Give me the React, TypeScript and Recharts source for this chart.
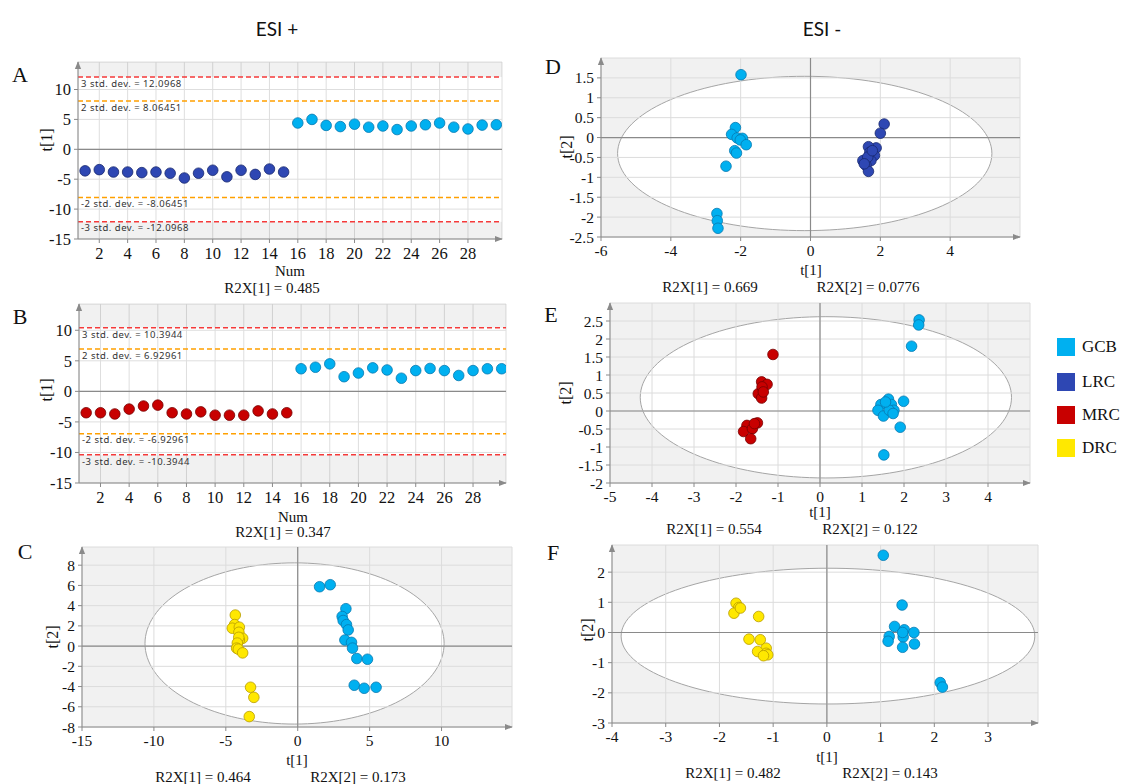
import React from "react"
import {
  ScatterChart, Scatter, XAxis, YAxis, CartesianGrid, ReferenceLine, ReferenceArea,
} from "recharts"

// ---- data ----
const NUM_LOW = [1, 2, 3, 4, 5, 6, 7, 8, 9, 10, 11, 12, 13, 14, 15]
const NUM_HIGH = [16, 17, 18, 19, 20, 21, 22, 23, 24, 25, 26, 27, 28, 29, 30]

const A_LRC = [-3.6, -3.4, -3.8, -3.8, -3.9, -3.8, -4.0, -4.8, -4.0, -3.5, -4.6, -3.5, -4.2, -3.3, -3.8]
const A_GCB = [4.4, 5.0, 4.0, 3.8, 4.2, 3.7, 3.9, 3.3, 3.9, 4.1, 4.4, 3.7, 3.4, 4.05, 4.1]
const A_SD = [12.0968, 8.06451]

const B_MRC = [-3.5, -3.5, -3.7, -2.9, -2.4, -2.25, -3.5, -3.7, -3.35, -3.9, -3.9, -3.9, -3.2, -3.7, -3.5]
const B_GCB = [3.7, 3.95, 4.5, 2.4, 3.0, 3.85, 3.5, 2.15, 3.4, 3.75, 3.4, 2.6, 3.4, 3.7, 3.7]
const B_SD = [10.3944, 6.92961]

type Pt = [number, number]

const C_DRC: Pt[] = [
  [-4.34, 3.07], [-4.39, 2.13], [-4.55, 1.77], [-4.06, 1.87], [-4.09, 1.37], [-3.83, 0.77],
  [-4.06, 0.6], [-4.1, 0.87], [-4.2, 0.3], [-4.25, -0.2], [-4.13, -0.3], [-3.83, -0.67],
  [-3.28, -4.07], [-3.05, -5.07], [-3.37, -6.97],
]
const C_GCB: Pt[] = [
  [1.52, 5.87], [2.26, 6.07], [3.35, 3.7], [3.09, 2.93], [3.16, 2.53], [3.39, 2.13],
  [3.51, 1.6], [3.28, 0.6], [3.74, 0.37], [3.81, -0.2], [4.11, -1.23], [4.85, -1.3],
  [3.93, -3.87], [4.62, -4.17], [5.45, -4.07],
]

const D_GCB: Pt[] = [
  [-1.99, 1.58], [-2.15, 0.25], [-2.26, 0.08], [-2.1, -0.01], [-1.95, -0.02], [-2.01, -0.06],
  [-1.84, -0.18], [-2.17, -0.33], [-2.12, -0.39], [-2.42, -0.72], [-2.68, -1.91], [-2.67, -2.09],
  [-2.65, -2.28],
]
const D_LRC: Pt[] = [
  [2.11, 0.34], [2.0, 0.11], [1.88, -0.26], [1.66, -0.23], [1.83, -0.45], [1.73, -0.58],
  [1.5, -0.58], [1.59, -0.7], [1.66, -0.85], [1.7, -0.37], [1.64, -0.49], [1.77, -0.33], [1.54, -0.66],
]

const E_MRC: Pt[] = [
  [-1.12, 1.57], [-1.39, 0.81], [-1.26, 0.74], [-1.47, 0.48], [-1.39, 0.36], [-1.38, 0.67],
  [-1.35, 0.53], [-1.49, -0.33], [-1.74, -0.4], [-1.82, -0.57], [-1.61, -0.49], [-1.65, -0.77],
  [-1.56, -0.35],
]
const E_GCB: Pt[] = [
  [2.36, 2.53], [2.35, 2.39], [2.18, 1.8], [1.99, 0.27], [1.63, 0.33], [1.45, 0.18],
  [1.38, 0.02], [1.51, -0.14], [1.7, 0.18], [1.76, 0.02], [1.65, 0.02], [1.74, -0.07],
  [1.56, 0.25], [1.91, -0.45], [1.52, -1.22],
]

const F_DRC: Pt[] = [
  [-1.69, 0.97], [-1.64, 0.83], [-1.73, 0.64], [-1.61, 0.81], [-1.27, 0.53], [-1.45, -0.22],
  [-1.24, -0.24], [-1.13, -0.52], [-1.29, -0.63], [-1.13, -0.69], [-1.1, -0.74], [-1.18, -0.77],
]
const F_GCB: Pt[] = [
  [1.05, 2.56], [1.4, 0.91], [1.26, 0.2], [1.44, 0.09], [1.62, 0.0], [1.16, -0.13],
  [1.14, -0.29], [1.42, -0.15], [1.63, -0.38], [1.41, -0.49], [1.41, 0.0], [2.11, -1.66], [2.15, -1.81],
]

const GROUPS = ["GCB", "LRC", "MRC", "DRC"]
const FILL: Record<string, string> = { GCB: "#00B0F0", LRC: "#2E47B3", MRC: "#C80000", DRC: "#FFE800" }
const EDGE: Record<string, string> = { GCB: "#0679b0", LRC: "#18286e", MRC: "#760000", DRC: "#b89c00" }

const SERIF = "'Liberation Serif', 'Times New Roman', serif"
const YW = 50
const MT = 10
const MR = 10
const XH = 30

interface Ell { cx: number; cy: number; rx: number; ry: number }

const ellipsePoints = (e: Ell) =>
  Array.from({ length: 145 }, (_, i) => {
    const t = (i / 144) * 2 * Math.PI
    return { x: e.cx + e.rx * Math.cos(t), y: e.cy + e.ry * Math.sin(t) }
  })

const dot = (g: string) => (p: any) => (
  <circle cx={p.cx} cy={p.cy} r={5.3} fill={FILL[g]} stroke={EDGE[g]} strokeWidth={0.8} />
)

const Txt = ({ x, y, children, size = 15, rotate = false, font = SERIF }: any) => (
  <div
    style={{
      position: "absolute", left: x, top: y, fontFamily: font, fontSize: size, lineHeight: 1,
      whiteSpace: "nowrap", color: "#111",
      transform: `translate(-50%, -50%)${rotate ? " rotate(-90deg)" : ""}`,
    }}
  >
    {children}
  </div>
)

function Arrow({ id }: { id: string }) {
  return (
    <defs>
      <marker id={id} viewBox="0 0 10 10" refX="9" refY="5" markerWidth="8" markerHeight="8"
        orient="auto-start-reverse" markerUnits="userSpaceOnUse">
        <path d="M0,1 L10,5 L0,9 z" fill="#8a8a8a" />
      </marker>
    </defs>
  )
}

function axes(id: string, xDomain: number[], yDomain: number[], xTicks: number[], yTicks: number[], fs: number) {
  const tick = { fontFamily: SERIF, fontSize: fs, fill: "#111" }
  return [
    <XAxis key="x" type="number" dataKey="x" domain={xDomain} ticks={xTicks} allowDataOverflow interval={0}
      height={XH} tickSize={4} tickMargin={4} tick={tick}
      axisLine={{ stroke: "#8a8a8a", markerEnd: `url(#${id})` }} tickLine={{ stroke: "#8a8a8a" }} />,
    <YAxis key="y" type="number" dataKey="y" domain={yDomain} ticks={yTicks} allowDataOverflow interval={0}
      width={YW} tickSize={4} tickMargin={3} tick={tick}
      axisLine={{ stroke: "#8a8a8a", markerStart: `url(#${id})` }} tickLine={{ stroke: "#8a8a8a" }} />,
  ]
}

function IndexPanel({ id, plot, yDomain, xDomain, low, high, lowGroup, sd }: any) {
  const lowData = NUM_LOW.map((n, i) => ({ x: n, y: low[i] }))
  const highData = NUM_HIGH.map((n, i) => ({ x: n, y: high[i] }))
  const lbl = (v: string) => ({
    value: v, position: "insideTopLeft", offset: 3, fontSize: 9.5, letterSpacing: 0.5,
    fill: "#333", fontFamily: "'Noto Sans', sans-serif",
  })
  return (
    <div style={{ position: "absolute", left: plot.x - YW, top: plot.y - MT }}>
      <ScatterChart width={plot.w + YW + MR} height={plot.h + MT + XH} margin={{ top: MT, right: MR, left: 0, bottom: 0 }}>
        <Arrow id={id} />
        {axes(id, xDomain, yDomain, [2, 4, 6, 8, 10, 12, 14, 16, 18, 20, 22, 24, 26, 28], [-15, -10, -5, 0, 5, 10], 16.5)}
        <CartesianGrid stroke="#dedede" />
        <ReferenceArea y1={sd[0]} y2={yDomain[1]} fill="#000" fillOpacity={0.055} stroke="none" />
        <ReferenceArea y1={yDomain[0]} y2={-sd[0]} fill="#000" fillOpacity={0.055} stroke="none" />
        <ReferenceLine y={0} stroke="#8a8a8a" strokeWidth={1.2} />
        <ReferenceLine y={sd[0]} stroke="#F53A3A" strokeDasharray="5 3" strokeWidth={1.5} label={lbl(`3 std. dev. = ${sd[0]}`)} />
        <ReferenceLine y={sd[1]} stroke="#FFA000" strokeDasharray="5 3" strokeWidth={1.5} label={lbl(`2 std. dev. = ${sd[1]}`)} />
        <ReferenceLine y={-sd[1]} stroke="#FFA000" strokeDasharray="5 3" strokeWidth={1.5} label={lbl(`-2 std. dev. = -${sd[1]}`)} />
        <ReferenceLine y={-sd[0]} stroke="#F53A3A" strokeDasharray="5 3" strokeWidth={1.5} label={lbl(`-3 std. dev. = -${sd[0]}`)} />
        <Scatter data={lowData} shape={dot(lowGroup)} isAnimationActive={false} />
        <Scatter data={highData} shape={dot("GCB")} isAnimationActive={false} />
      </ScatterChart>
    </div>
  )
}

function ScorePanel({ id, plot, xDomain, yDomain, xTicks, yTicks, ell, groups }: any) {
  return (
    <>
      <div style={{ position: "absolute", left: plot.x, top: plot.y, width: plot.w, height: plot.h, background: "#f1f1f1" }} />
      <div style={{ position: "absolute", left: plot.x - YW, top: plot.y - MT }}>
        <ScatterChart width={plot.w + YW + MR} height={plot.h + MT + XH} margin={{ top: MT, right: MR, left: 0, bottom: 0 }}>
          <Arrow id={id} />
          {axes(id, xDomain, yDomain, xTicks, yTicks, 15.5)}
          <Scatter data={ellipsePoints(ell)} zIndex={-150} shape={() => <g />} lineJointType="linear"
            line={{ stroke: "#a5a5a5", strokeWidth: 1, fill: "#ffffff" }} isAnimationActive={false} />
          <CartesianGrid stroke="#dcdcdc" />
          <ReferenceLine x={0} stroke="#8a8a8a" strokeWidth={1.2} />
          <ReferenceLine y={0} stroke="#8a8a8a" strokeWidth={1.2} />
          {groups.map(([g, pts]: [string, Pt[]]) => (
            <Scatter key={g} data={pts.map(([x, y]) => ({ x, y }))} shape={dot(g)} isAnimationActive={false} />
          ))}
        </ScatterChart>
      </div>
    </>
  )
}

export default function App() {
  return (
    <div style={{ position: "absolute", left: 0, top: 0, width: 1121, height: 784, background: "#fff", overflow: "hidden" }}>
      <Txt x={277} y={28} size={19} font="Lato, 'Open Sans', sans-serif">ESI +</Txt>
      <Txt x={822} y={28} size={19} font="Lato, 'Open Sans', sans-serif">ESI -</Txt>

      {/* A */}
      <IndexPanel id="arA" plot={{ x: 78, y: 62, w: 424, h: 177 }} xDomain={[0.5, 30.4]} yDomain={[-15, 14.6]}
        low={A_LRC} high={A_GCB} lowGroup="LRC" sd={A_SD} />
      <Txt x={20} y={75} size={22}>A</Txt>
      <Txt x={47} y={140} size={16} rotate>t[1]</Txt>
      <Txt x={290} y={271}>Num</Txt>
      <Txt x={272} y={288}>R2X[1] = 0.485</Txt>

      {/* B */}
      <IndexPanel id="arB" plot={{ x: 79, y: 304, w: 427, h: 179 }} xDomain={[0.5, 30.3]} yDomain={[-15, 14.3]}
        low={B_MRC} high={B_GCB} lowGroup="MRC" sd={B_SD} />
      <Txt x={20} y={317} size={22}>B</Txt>
      <Txt x={47} y={390} size={16} rotate>t[1]</Txt>
      <Txt x={293} y={517}>Num</Txt>
      <Txt x={283} y={532}>R2X[1] = 0.347</Txt>

      {/* C */}
      <ScorePanel id="arC" plot={{ x: 82, y: 547, w: 430, h: 180 }} xDomain={[-15, 14.9]} yDomain={[-8, 9.8]}
        xTicks={[-15, -10, -5, 0, 5, 10]} yTicks={[-8, -6, -4, -2, 0, 2, 4, 6, 8]}
        ell={{ cx: -0.22, cy: 0.26, rx: 10.4, ry: 7.97 }} groups={[["DRC", C_DRC], ["GCB", C_GCB]]} />
      <Txt x={25} y={552} size={22}>C</Txt>
      <Txt x={53} y={637} size={16} rotate>t[2]</Txt>
      <Txt x={297} y={760}>t[1]</Txt>
      <Txt x={203} y={777}>R2X[1] = 0.464</Txt>
      <Txt x={358} y={777}>R2X[2] = 0.173</Txt>

      {/* D */}
      <ScorePanel id="arD" plot={{ x: 601, y: 58, w: 419, h: 179 }} xDomain={[-6, 6]} yDomain={[-2.5, 2]}
        xTicks={[-6, -4, -2, 0, 2, 4]} yTicks={[-2.5, -2, -1.5, -1, -0.5, 0, 0.5, 1, 1.5]}
        ell={{ cx: -0.165, cy: -0.4, rx: 5.36, ry: 1.94 }} groups={[["GCB", D_GCB], ["LRC", D_LRC]]} />
      <Txt x={553} y={67} size={22}>D</Txt>
      <Txt x={567} y={147} size={16} rotate>t[2]</Txt>
      <Txt x={811} y={270}>t[1]</Txt>
      <Txt x={710} y={287}>R2X[1] = 0.669</Txt>
      <Txt x={868} y={287}>R2X[2] = 0.0776</Txt>

      {/* E */}
      <ScorePanel id="arE" plot={{ x: 610, y: 303, w: 420, h: 180 }} xDomain={[-5, 5]} yDomain={[-2, 3]}
        xTicks={[-5, -4, -3, -2, -1, 0, 1, 2, 3, 4]} yTicks={[-2, -1.5, -1, -0.5, 0, 0.5, 1, 1.5, 2, 2.5]}
        ell={{ cx: 0.14, cy: 0.38, rx: 4.42, ry: 2.24 }} groups={[["MRC", E_MRC], ["GCB", E_GCB]]} />
      <Txt x={551} y={315} size={22}>E</Txt>
      <Txt x={566} y={393} size={16} rotate>t[2]</Txt>
      <Txt x={820} y={512}>t[1]</Txt>
      <Txt x={714} y={529}>R2X[1] = 0.554</Txt>
      <Txt x={870} y={529}>R2X[2] = 0.122</Txt>

      {/* legend */}
      {GROUPS.map((g, i) => (
        <React.Fragment key={g}>
          <div style={{ position: "absolute", left: 1057, top: [338, 373, 406, 439][i], width: 18, height: 18, background: FILL[g] }} />
          <div style={{ position: "absolute", left: 1082, top: [338, 373, 406, 439][i], fontFamily: SERIF, fontSize: 17, lineHeight: "18px", color: "#111" }}>{g}</div>
        </React.Fragment>
      ))}

      {/* F */}
      <ScorePanel id="arF" plot={{ x: 612, y: 545, w: 426, h: 178 }} xDomain={[-4, 3.93]} yDomain={[-3, 2.9]}
        xTicks={[-4, -3, -2, -1, 0, 1, 2, 3]} yTicks={[-3, -2, -1, 0, 1, 2]}
        ell={{ cx: 0.02, cy: -0.12, rx: 3.85, ry: 2.25 }} groups={[["DRC", F_DRC], ["GCB", F_GCB]]} />
      <Txt x={553} y={553} size={22}>F</Txt>
      <Txt x={588} y={630} size={16} rotate>t[2]</Txt>
      <Txt x={827} y={757}>t[1]</Txt>
      <Txt x={733} y={773}>R2X[1] = 0.482</Txt>
      <Txt x={890} y={773}>R2X[2] = 0.143</Txt>
    </div>
  )
}
